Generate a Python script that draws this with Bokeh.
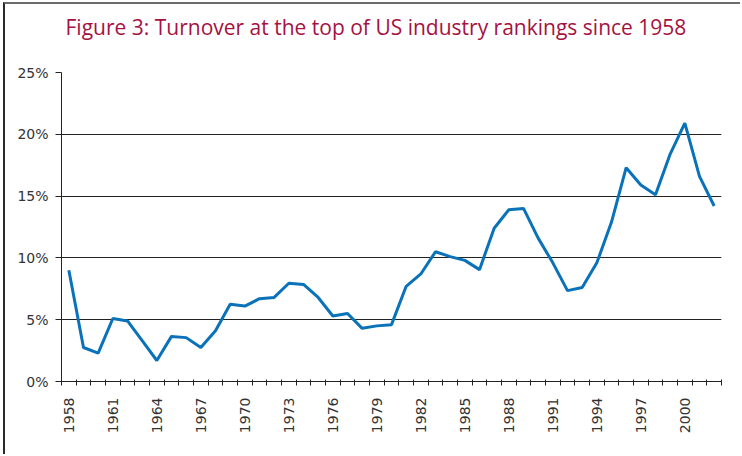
from bokeh.plotting import figure
from bokeh.models import FixedTicker, CustomJSTickFormatter, Range1d, Title
from bokeh.embed import file_html
from bokeh.resources import INLINE

years = list(range(1958, 2003))
turnover = [9.0, 2.75, 2.3, 5.1, 4.9, 3.3, 1.7, 3.65, 3.55, 2.75,
            4.1, 6.25, 6.1, 6.7, 6.8, 7.95, 7.85, 6.8, 5.3, 5.5,
            4.3, 4.5, 4.6, 7.7, 8.7, 10.5, 10.1, 9.8, 9.05, 12.4,
            13.9, 14.0, 11.6, 9.6, 7.35, 7.6, 9.6, 12.9, 17.3, 15.9,
            15.1, 18.4, 20.9, 16.6, 14.2]
label_years = list(range(1958, 2001, 3))
y_ticks = [0, 5, 10, 15, 20, 25]
title_text = "Figure 3: Turnover at the top of US industry rankings since 1958"

p = figure(width=737, height=452, output_backend="svg", toolbar_location=None,
           title=None,
           x_range=Range1d(years[0] - 0.5, years[-1] + 0.5),
           y_range=Range1d(0, 25),
           min_border_left=56, min_border_right=21, min_border_top=68,
           min_border_bottom=75,
           styles={"border-top": "2px solid #6b6b6b", "border-left": "2px solid #2a2a2a",
                   "margin-left": "3px", "margin-top": "2px"})

# spacer between title and plot frame (closest to the frame)
p.add_layout(Title(text=" ", text_font_size="1px", standoff=29), "above")
# main title
p.add_layout(Title(text=title_text, text_color="#a5123f", text_font="Open Sans",
                   text_font_size="21px", text_font_style="normal",
                   align="left", offset=4, standoff=0), "above")

p.outline_line_color = None
p.background_fill_color = "white"
p.border_fill_color = "white"

p.line(years, turnover, line_color="#0a72b9", line_width=3)

# x axis
p.xaxis.ticker = FixedTicker(ticks=label_years,
                             minor_ticks=[y - 0.5 for y in years] + [years[-1] + 0.5])
p.xaxis.major_tick_line_color = None
p.xaxis.major_tick_out = 0
p.xaxis.major_tick_in = 0
p.xaxis.minor_tick_line_color = "#222222"
p.xaxis.minor_tick_out = 4
p.xaxis.minor_tick_in = 2
p.xaxis.major_label_orientation = 3.14159265 / 2
p.xaxis.major_label_standoff = 12
p.xaxis.formatter = CustomJSTickFormatter(code="return tick.toFixed(0);")
p.xaxis.axis_line_color = "#222222"
p.xaxis.major_label_text_font = "DejaVu Sans"
p.xaxis.major_label_text_font_size = "14px"
p.xaxis.major_label_text_color = "#333333"
p.xgrid.grid_line_color = None

# y axis
p.yaxis.ticker = FixedTicker(ticks=y_ticks, minor_ticks=[])
p.yaxis.formatter = CustomJSTickFormatter(code="return tick.toFixed(0) + '%';")
p.yaxis.major_tick_out = 6
p.yaxis.major_tick_in = 0
p.yaxis.major_tick_line_color = "#222222"
p.yaxis.axis_line_color = "#222222"
p.yaxis.major_label_standoff = 7
p.yaxis.major_label_text_font = "DejaVu Sans"
p.yaxis.major_label_text_font_size = "14px"
p.yaxis.major_label_text_color = "#333333"
p.ygrid.grid_line_color = "#222222"
p.ygrid.grid_line_width = 1

open("out.html", "w").write(file_html(p, INLINE))
